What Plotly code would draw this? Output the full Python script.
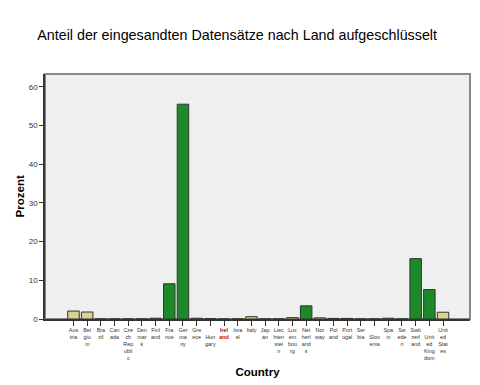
import plotly.graph_objects as go

countries = ["Austria", "Belgium", "Brazil", "Canada", "Czech Republic", "Denmark", "Finland",
             "France", "Germany", "Greece", "Hungary", "Ireland", "Israel", "Italy", "Japan",
             "Liechtenstein", "Luxembourg", "Netherlands", "Norway", "Poland", "Portugal",
             "Serbia", "Slovenia", "Spain", "Sweden", "Switzerland", "United Kingdom",
             "United States"]
tick_labels = ["Aus<br>tria", "Bel<br>giu<br>m", "Bra<br>zil", "Can<br>ada",
               "Cze<br>ch<br>Rep<br>ubli<br>c", "Den<br>mar<br>k", "Finl<br>and",
               "Fra<br>nce", "Ger<br>ma<br>ny", "Gre<br>ece", " <br>Hun<br>gary",
               "<span style='color:#cc0000'><b>Irel<br>and</b></span>", "Isra<br>el", "Italy",
               "Jap<br>an", "Liec<br>hten<br>stei<br>n", "Lux<br>em<br>bou<br>rg",
               "Net<br>herl<br>and<br>s", "Nor<br>way", "Pol<br>and", "Port<br>ugal",
               "Ser<br>bia", " <br>Slov<br>enia", "Spa<br>in", "Sw<br>ede<br>n",
               "Swit<br>zerl<br>and", " <br>Unit<br>ed<br>King<br>dom", "Unit<br>ed<br>Stat<br>es"]
percent = [2.05, 1.8, 0, 0, 0, 0, 0.2, 9.1, 55.5, 0.2, 0.1, 0, 0, 0.6, 0, 0, 0.35, 3.4,
           0.3, 0.15, 0.15, 0, 0, 0.2, 0, 15.6, 7.6, 1.75]
highlight = ["France", "Germany", "Netherlands", "Switzerland", "United Kingdom"]

GREEN = "#1d8a2a"
TAN = "#d9d290"
colors = [GREEN if c in highlight else TAN for c in countries]

fig = go.Figure(go.Bar(
    x=countries, y=percent, marker=dict(color=colors, line=dict(color="#333333", width=1)),
    width=0.84,
))

fig.update_layout(
    width=480, height=385,
    margin=dict(l=45, r=10, t=74, b=66, autoexpand=False),
    paper_bgcolor="white", plot_bgcolor="#efefef",
    showlegend=False,
    title=dict(text="Anteil der eingesandten Datensätze nach Land aufgeschlüsselt",
               x=0.494, xanchor="center", y=0.91, yanchor="middle",
               font=dict(family="Liberation Sans, Arial", size=14.3, color="black")),
    shapes=[dict(type="rect", xref="paper", yref="paper", x0=0, x1=1, y0=0, y1=1,
                 line=dict(color="#8a8a8a", width=2), layer="below")],
    annotations=[dict(text="<b>Prozent</b>", textangle=-90, xref="paper", yref="paper",
                      x=-0.059, y=0.5, xanchor="center", yanchor="middle", showarrow=False,
                      font=dict(family="Liberation Sans, Arial", size=11.5, color="black"))],
)
fig.update_xaxes(
    type="category", range=[-2.08, 28.97], automargin=False,
    tickmode="array", tickvals=countries, ticktext=tick_labels,
    tickangle=0, ticks="outside", ticklen=5, tickcolor="#333333",
    tickfont=dict(family="Liberation Sans, Arial", size=5.4, color="#333333"),
    showline=True, linecolor="#333333", linewidth=1.5, showgrid=False, zeroline=False,
    title=dict(text="<b>Country</b>", standoff=8,
               font=dict(family="Liberation Sans, Arial", size=11.5, color="black")),
)
fig.update_yaxes(
    range=[0, 63.3], tickvals=[0, 10, 20, 30, 40, 50, 60], automargin=False,
    ticks="outside", ticklen=4, tickcolor="#333333",
    tickfont=dict(family="Liberation Sans, Arial", size=8, color="#333333"),
    showline=True, linecolor="#333333", linewidth=1.5, showgrid=False, zeroline=False,
)

fig.write_html("out.html", config={"displayModeBar": False},
               post_script="document.body.style.margin='0';")
